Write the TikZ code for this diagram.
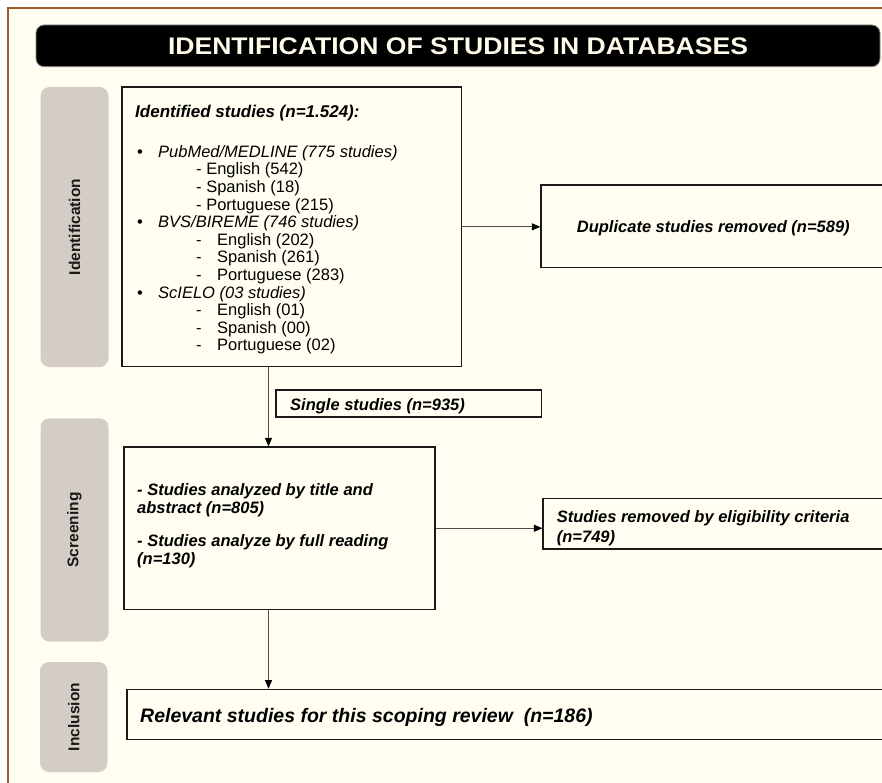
\documentclass[tikz,border=0pt]{standalone}
\usepackage{fontspec}
\usepackage{graphicx}
\setmainfont{Liberation Sans}
\usetikzlibrary{arrows.meta,fit}
\definecolor{cream}{HTML}{FFFEF0}
\definecolor{framebrown}{HTML}{9A5A2A}
\definecolor{phasegray}{HTML}{D4CDC5}
\definecolor{titletxt}{HTML}{FFFBEA}
\begin{document}
\begin{tikzpicture}[x=1pt,y=-1pt,
  box/.style={draw=black!90,line width=1.3pt,inner sep=0pt},
  phase/.style={fill=phasegray,rounded corners=9pt,inner sep=0pt},
  phasetext/.style={inner sep=0pt,font=\fontsize{15.5}{18}\selectfont\bfseries,text=black!90},
  conn/.style={draw=black!70,line width=0.9pt},
  arr/.style={conn,-{Triangle[length=8.5pt,width=7pt,color=black]}},
  txt/.style={inner sep=0pt,anchor=base west,font=\fontsize{16.5}{19}\selectfont\bfseries\itshape}]
\useasboundingbox (0,0) rectangle (882,783);
\clip (0,0) rectangle (882,783);
\fill[white] (0,0) rectangle (882,783);
\fill[cream] (8,8) rectangle (882,783);
\draw[framebrown,line width=2pt] (8,783) -- (8,8) -- (882,8);

% title bar
\node[fit={(36,25) (880,66.7)}, inner sep=0pt, fill=black, draw=black!45, line width=0.8pt, rounded corners=8pt] (title) {};
\node[anchor=base, text=titletxt, inner sep=0pt, font=\fontsize{24}{28}\selectfont\bfseries] (titletext) at (458,54.3) {\resizebox{580pt}{\height}{IDENTIFICATION OF STUDIES IN DATABASES}};

% phase labels
\node[phase, fit={(40.5,87) (108.5,367)}] (pid) {};
\node[phasetext, rotate=90] (pidt) at (pid.center) {Identification};
\node[phase, fit={(40.5,418.3) (108.5,641.5)}] (pscr) {};
\node[phasetext, rotate=90] (pscrt) at (pscr.center) {Screening};
\node[phase, fit={(40,662) (107.5,772)}] (pinc) {};
\node[phasetext, rotate=90] (pinct) at (pinc.center) {Inclusion};

% boxes
\node[box, fit={(122,87) (461.5,366.7)}] (ident) {};
\node[box, fit={(541,185) (1000,267.7)}] (dup) {};
\node[box, line width=1.2pt, fit={(276,390) (541.4,417)}] (single) {};
\node[box, fit={(124,447) (435,609.5)}] (scr) {};
\node[box, line width=1.2pt, fit={(543,498.3) (1000,549)}] (elig) {};
\node[box, fit={(127,689.3) (1000,739.3)}] (rel) {};

% texts
\node[txt, font=\fontsize{17}{19}\selectfont\bfseries\itshape] (identhead) at (135,117.3) {Identified studies (n=1.524):};
\node[inner sep=0pt, anchor=north west, align=left, font=\fontsize{16.5}{17.6}\selectfont] (identlist) at (135,144.8) {%
\strut\hspace*{2pt}\makebox[21pt][l]{•}\textit{PubMed/MEDLINE (775 studies)}\\
\hspace*{61pt}- English (542)\\
\hspace*{61pt}- Spanish (18)\\
\hspace*{61pt}- Portuguese (215)\\
\hspace*{2pt}\makebox[21pt][l]{•}\textit{BVS/BIREME (746 studies)}\\
\hspace*{61pt}\makebox[21pt][l]{-}English (202)\\
\hspace*{61pt}\makebox[21pt][l]{-}Spanish (261)\\
\hspace*{61pt}\makebox[21pt][l]{-}Portuguese (283)\\
\hspace*{2pt}\makebox[21pt][l]{•}\textit{ScIELO (03 studies)}\\
\hspace*{61pt}\makebox[21pt][l]{-}English (01)\\
\hspace*{61pt}\makebox[21pt][l]{-}Spanish (00)\\
\hspace*{61pt}\makebox[21pt][l]{-}Portuguese (02)};

\node[txt] (duptext) at (576.7,233) {Duplicate studies removed (n=589)};
\node[txt] (singletext) at (290,410) {Single studies (n=935)};
\node[txt] (scrtext1) at (137,495.5) {- Studies analyzed by title and};
\node[txt] (scrtext2) at (137,513.5) {abstract (n=805)};
\node[txt] (scrtext3) at (137,546.5) {- Studies analyze by full reading};
\node[txt] (scrtext4) at (137,564.5) {(n=130)};
\node[txt] (eligtext1) at (556.7,522) {Studies removed by eligibility criteria};
\node[txt] (eligtext2) at (556.7,542) {(n=749)};
\node[txt, font=\fontsize{19.5}{22}\selectfont\bfseries\itshape] (reltext) at (140,722) {Relevant studies for this scoping review\ \ (n=186)};

% connectors
\coordinate (tx) at (268.5,0);
\draw[arr] (ident.east) -- (ident.east -| dup.west);
\draw[arr] (ident.south -| tx) -- (scr.north -| tx);
\draw[arr] (scr.east) -- (scr.east -| elig.west);
\draw[arr] (scr.south -| tx) -- (rel.north -| tx);
\end{tikzpicture}
\end{document}
